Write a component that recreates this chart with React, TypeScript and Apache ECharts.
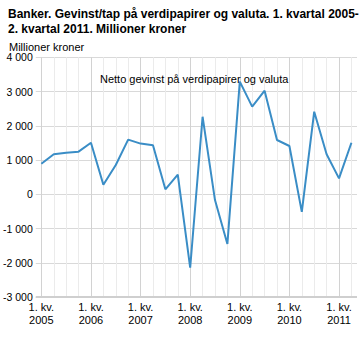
import React, { useEffect, useRef } from "react";
import * as echarts from "echarts";

const quarters: string[] = [
  "2005K1","2005K2","2005K3","2005K4",
  "2006K1","2006K2","2006K3","2006K4",
  "2007K1","2007K2","2007K3","2007K4",
  "2008K1","2008K2","2008K3","2008K4",
  "2009K1","2009K2","2009K3","2009K4",
  "2010K1","2010K2","2010K3","2010K4",
  "2011K1","2011K2",
];
const nettoGevinst: number[] = [
  890, 1170, 1215, 1245,
  1505, 280, 855, 1595,
  1480, 1430, 145, 575,
  -2145, 2265, -170, -1450,
  3290, 2560, 3025, 1585,
  1410, -515, 2410, 1170,
  465, 1505,
];
const yearLabels: string[] = ["2005", "2006", "2007", "2008", "2009", "2010", "2011"];
const yTicks: number[] = [-3000, -2000, -1000, 0, 1000, 2000, 3000, 4000];

const FONT = "'Liberation Sans', Arial, sans-serif";

function fmt(v: number): string {
  const s = Math.abs(v).toString().replace(/\B(?=(\d{3})+(?!\d))/g, " ");
  return (v < 0 ? "-" : "") + s;
}

export default function App() {
  const ref = useRef<HTMLDivElement>(null);
  useEffect(() => {
    if (!ref.current) return;
    const chart = echarts.init(ref.current, null, { renderer: "svg" });
    const yearIdx = quarters.map((q, i) => i).filter((i) => quarters[i].endsWith("K1"));
    chart.setOption({
      animation: false,
      backgroundColor: "#ffffff",
      title: [
        {
          text: "Banker. Gevinst/tap på verdipapirer og valuta. 1. kvartal 2005-\n2. kvartal 2011. Millioner kroner",
          left: 3,
          top: 2,
          textStyle: { fontFamily: FONT, fontSize: 12, fontWeight: "bold", color: "#000", lineHeight: 14.5 },
        },
        {
          text: "Millioner kroner",
          left: 4,
          top: 36,
          textStyle: { fontFamily: FONT, fontSize: 11, fontWeight: "normal", color: "#000" },
        },
        {
          text: "Netto gevinst på verdipapirer og valuta",
          left: 95,
          top: 68,
          textStyle: { fontFamily: FONT, fontSize: 11, fontWeight: "normal", color: "#000" },
        },
      ],
      grid: { left: 35.5, right: 5, top: 57.3, bottom: 63, containLabel: false },
      xAxis: {
        type: "value",
        min: -0.45,
        max: quarters.length - 1 + 0.45,
        axisLine: { show: false },
        axisTick: { show: false, customValues: quarters.map((q, i) => i) },
        splitLine: {
          show: true,
          lineStyle: { color: ["#d2d2d2", "#ebebeb", "#ebebeb", "#ebebeb"], width: 1 },
        },
        axisLabel: {
          customValues: yearIdx,
          formatter: (v: number) => "1. kv.\n" + quarters[Math.round(v)].slice(0, 4),
          fontFamily: FONT,
          fontSize: 11,
          color: "#000",
          lineHeight: 12.6,
          margin: 4,
        },
      },
      yAxis: {
        type: "value",
        min: yTicks[0],
        max: yTicks[yTicks.length - 1],
        interval: 1000,
        axisLine: { show: false },
        axisTick: { show: false },
        splitLine: { show: true, lineStyle: { color: "#d9d9d9", width: 1 } },
        axisLabel: {
          formatter: (v: number) => fmt(v),
          fontFamily: FONT,
          fontSize: 10.5,
          color: "#000",
          margin: 3,
        },
      },
      series: [
        {
          type: "line",
          name: "Netto gevinst på verdipapirer og valuta",
          data: nettoGevinst.map((v, i) => [i, v]),
          showSymbol: false,
          lineStyle: { color: "#3a8dc6", width: 2 },
          markLine: {
            silent: true,
            symbol: "none",
            label: { show: false },
            lineStyle: { color: "#cfcfcf", width: 2, type: "solid" },
            data: [{ yAxis: yTicks[0] }],
          },
        },
      ],
    });
    return () => chart.dispose();
  }, []);
  return <div ref={ref} style={{ width: 362, height: 360, position: "absolute", left: 0, top: 0 }} />;
}
